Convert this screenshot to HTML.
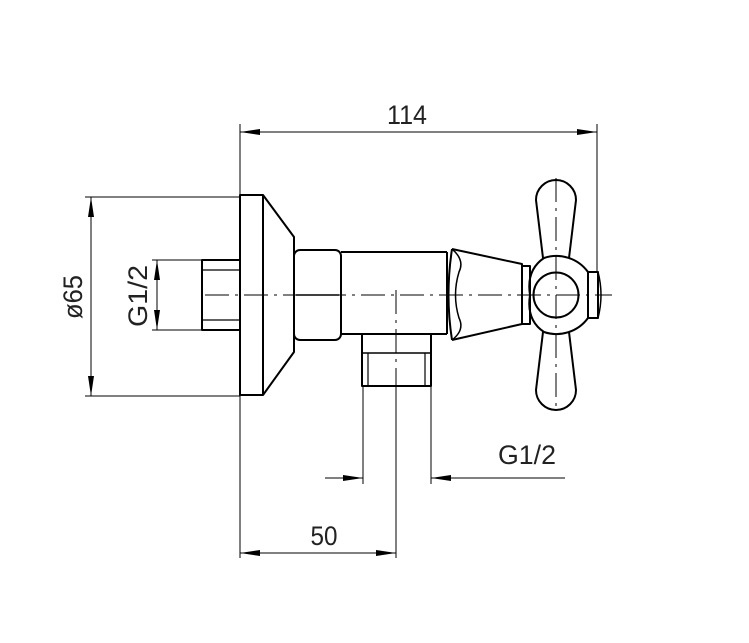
<!DOCTYPE html>
<html><head><style>html,body{margin:0;padding:0;background:#fff}svg{display:block}</style></head>
<body>
<svg width="749" height="643" viewBox="0 0 749 643" xmlns="http://www.w3.org/2000/svg" font-family="Liberation Sans, sans-serif">
<defs>
<marker id="a" viewBox="0 0 20 6" refX="20" refY="3" markerWidth="20" markerHeight="6" markerUnits="userSpaceOnUse" orient="auto-start-reverse"><path d="M0,0 L20,3 L0,6 z" fill="#000"/></marker>
</defs>
<g stroke="#000" fill="none" stroke-width="1">
<line x1="240" y1="124" x2="240" y2="558"/>
<line x1="597" y1="124" x2="597" y2="272"/>
<line x1="85" y1="197" x2="240" y2="197"/>
<line x1="85" y1="396" x2="240" y2="396"/>
<line x1="152" y1="260" x2="202" y2="260"/>
<line x1="152" y1="330" x2="202" y2="330"/>
<line x1="363" y1="386" x2="363" y2="484"/>
<line x1="431" y1="386" x2="431" y2="484"/>
<line x1="396" y1="386" x2="396" y2="558"/>
<line x1="240" y1="132" x2="597" y2="132" marker-start="url(#a)" marker-end="url(#a)"/>
<line x1="91" y1="197" x2="91" y2="396" marker-start="url(#a)" marker-end="url(#a)"/>
<line x1="157" y1="260" x2="157" y2="330" marker-start="url(#a)" marker-end="url(#a)"/>
<line x1="240" y1="553" x2="396" y2="553" marker-start="url(#a)" marker-end="url(#a)"/>
<line x1="325" y1="478" x2="363" y2="478" marker-end="url(#a)"/>
<line x1="565" y1="478" x2="431" y2="478" marker-end="url(#a)"/>
<line x1="205" y1="295" x2="612" y2="295" stroke-dasharray="24,6,3,6"/>
<line x1="396" y1="290" x2="396" y2="386" stroke-dasharray="24,6,3,6"/>
<line x1="556" y1="178" x2="556" y2="412" stroke-dasharray="24,6,3,6"/>
</g>
<g stroke="#000" fill="none" stroke-width="2" stroke-linejoin="round">
<rect x="202" y="260" width="38" height="70"/>
<line x1="202" y1="270" x2="240" y2="270" stroke-width="1.2"/>
<line x1="202" y1="320" x2="240" y2="320" stroke-width="1.2"/>
<rect x="240" y="195" width="23" height="200"/>
<path d="M263,195 L294,237 L294,352 L263,395"/>
<rect x="294" y="250" width="47" height="90" rx="6"/>
<line x1="296" y1="295" x2="339" y2="295" stroke-width="1.5"/>
<path d="M341,252 L447,252 M341,334 L447,334"/>
<line x1="447" y1="252" x2="447" y2="334"/>
<path d="M362,334 L362,386 L431,386 L431,334"/>
<line x1="362" y1="353" x2="431" y2="353" stroke-width="1.5"/>
<line x1="368" y1="353" x2="368" y2="386" stroke-width="1.2"/>
<line x1="425" y1="353" x2="425" y2="386" stroke-width="1.2"/>
<path d="M452,249 L522,264 L522,324 L452,340"/>
<path d="M452,249 Q445,295 452,340"/>
<path d="M452,249 Q465,260 459,272 Q452,295 459,318 Q465,330 452,340" stroke-width="1.5"/>
<rect x="522" y="266" width="8" height="58"/>
<path d="M544,258 A39,39 0 0 1 588,272 M588,318 A39,39 0 0 1 544,332 M544,258 Q526,270 530,295 Q526,320 544,332"/>
<circle cx="556" cy="295" r="22.5"/>
<rect x="588" y="272" width="10" height="46"/>
<path d="M598,272 Q604,295 598,318" stroke-width="1.5"/>
<path d="M543,258 L536,200 A20,20 0 0 1 576,200 L569,258"/>
<path d="M543,332 L536,390 A20,20 0 0 0 576,390 L569,332"/>
</g>
<g fill="#222" font-size="27">
<text x="407" y="124" text-anchor="middle" textLength="40" lengthAdjust="spacingAndGlyphs">114</text>
<text x="324" y="545" text-anchor="middle" textLength="27" lengthAdjust="spacingAndGlyphs">50</text>
<text x="527" y="464" text-anchor="middle" textLength="58" lengthAdjust="spacingAndGlyphs">G1/2</text>
<text transform="translate(82,297) rotate(-90)" text-anchor="middle" textLength="44" lengthAdjust="spacingAndGlyphs">ø65</text>
<text transform="translate(147,296) rotate(-90)" text-anchor="middle" textLength="62" lengthAdjust="spacingAndGlyphs">G1/2</text>
</g>
</svg>
</body></html>
